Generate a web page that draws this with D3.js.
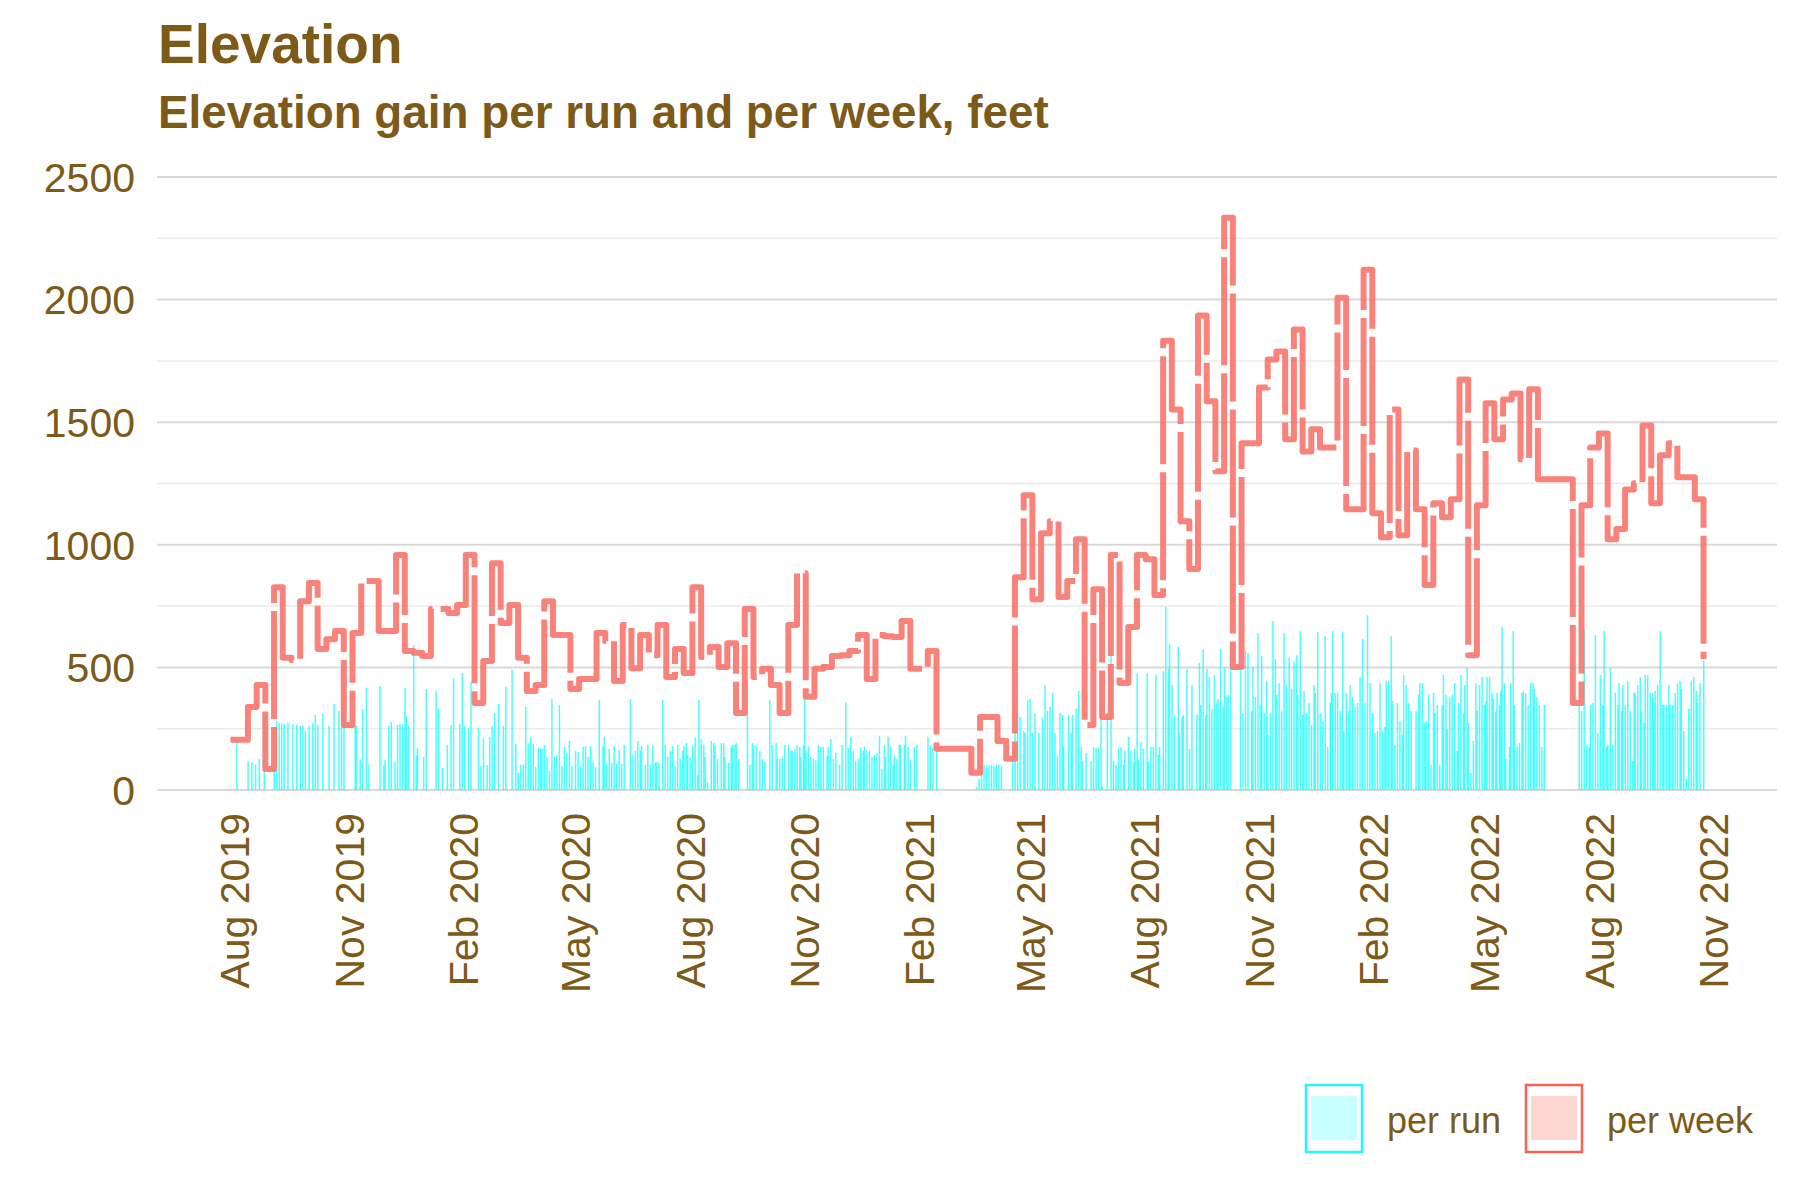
<!DOCTYPE html>
<html>
<head>
<meta charset="utf-8">
<script src="https://cdn.jsdelivr.net/npm/d3@7"></script>
<style>
	body { margin: 0; background: #fff; }
	svg { display: block; font-family: "Liberation Sans", Arial, Helvetica, sans-serif; }
</style>
</head>
<body>
<div id="chart"></div>
<script>
// weekly totals, one per week starting Monday 2019-07-29 (null = no runs that week)
var weekStart = "2019-07-29";
var weekGain = [
	205, null, 339, 428, 86, 827, 539, 530, 770, 844,
	575, 615, 648, 265, 640, 852, null, 648, 648, 958,
	567, 560, 546, 738, null, 722, 754, 958, 355, 526,
	925, 681, 754, 539, 404, 428, 770, 632, 632, 412,
	453, 453, 640, 607, 445, 673, 497, 632, 550, 673,
	461, 575, 477, 827, 542, 583, 502, 599, 314, 738,
	461, 494, 428, 314, 673, 884, 380, 494, 502, 546,
	550, 567, 632, 453, 632, 627, 624, 689, 494, 494,
	567, 168, null, null, null, 70, 298, 298, 200, 127,
	868, 1202, 778, 1047, 1096, 787, 852, 1023, 265, 819,
	298, 958, 436, 665, 958, 941, 795, 1832, 1552, 1096,
	901, 1935, 1585, 1300, 2334, 502, 1414, 1414, 1642, 1756,
	1788, 1430, 1878, 1381, 1471, 1397, 1397, 2008, 1145, 1145,
	2122, 1129, 1031, 1552, 1039, 1385, 1145, 836, 1169, 1112,
	1186, 1674, 550, 1161, 1577, 1430, 1593, 1617, 1349, 1634,
	1267, null, null, null, 355, 1161, 1397, 1454, 1023, 1064,
	1226, 1251, 1487, 1169, 1365, 1414, 1275, 1275, 1186, 534
];

// single runs: [days after 2019-08-01, elevation gain in feet]
var runOrigin = "2019-08-01";
var runs = [
	[2,205],[11,119],[14,114],[17,103],[20,127],[24,301],[32,91],[34,282],[36,274],[38,270],
	[40,268],[43,274],[47,269],[50,266],[53,261],[55,262],[57,241],[60,262],[63,274],[65,306],
	[67,266],[71,314],[76,262],[80,352],[84,322],[86,257],[88,330],[97,262],[98,262],[101,122],
	[103,330],[106,417],[108,102],[117,425],[120,102],[121,122],[124,262],[126,277],[129,114],[131,265],
	[133,269],[135,270],[137,417],[138,303],[140,262],[144,591],[146,140],[147,171],[152,135],[154,412],
	[162,404],[164,332],[167,91],[171,184],[174,265],[176,456],[181,269],[183,477],[185,261],[188,252],
	[190,440],[196,252],[198,99],[200,210],[203,102],[205,217],[207,262],[209,314],[212,352],[216,262],
	[218,420],[223,490],
	[226,187],[228,70],[230,103],[232,103],[234,339],[236,187],[238,217],[240,189],[242,94],[244,171],
	[246,171],[247,168],[249,184],[251,135],[253,78],[255,371],[257,135],[259,143],[261,347],[263,98],
	[265,176],[267,151],[269,200],[271,98],[274,160],[276,155],[278,98],[280,176],[282,179],[284,135],
	[286,179],[288,114],[290,94],[293,368],[296,176],[297,217],[299,107],[301,168],[303,111],[305,179],
	[307,107],[309,164],[311,107],[313,184],[318,371],[320,143],[322,160],[324,200],[326,160],[327,179],
	[330,103],[332,184],[334,103],[336,184],[338,111],[339,114],[341,111],[344,368],[346,184],[348,135],
	[350,160],[352,179],[354,98],[356,184],[358,127],[360,160],[361,179],[363,192],[364,143],[366,135],
	[368,179],[370,212],[372,62],[373,366],[375,208],[377,184],[378,135],[380,33],[383,200],[385,192],
	[386,184],[388,127],[391,192],[393,192],[394,135],[397,111],[399,176],[400,184],[402,184],[403,192],
	[405,127],[412,445],[414,103],[416,192],[417,184],[419,179],[422,160],[424,127],[426,114],[430,368],
	[432,184],[435,192],[436,127],[438,127],[440,135],[442,184],[445,184],[447,160],[448,160],[450,168],
	[452,184],[454,176],[455,135],[457,184],[458,371],[459,160],[461,179],[463,135],[465,127],
	[467,122],[469,184],[471,176],[473,176],[476,138],[477,176],[479,208],[481,127],[483,151],[486,103],
	[488,184],[491,358],[493,171],[495,217],[497,160],[499,119],[501,127],[503,171],[505,160],[506,176],
	[508,160],[510,160],[512,135],[514,143],[516,151],[518,220],[520,86],[522,184],[523,135],[525,217],
	[527,176],[529,103],[530,143],[532,127],[534,184],[535,184],[538,184],[539,220],[541,176],[543,122],
	[546,176],[548,184],[557,217],[559,184],[561,171],[564,160],[596,13],[598,46],[600,94],[602,103],
	[604,98],[606,98],[608,103],[610,98],[612,103],[614,103],[616,98],[625,127],[627,249],[629,314],
	[631,298],[634,241],[635,233],[637,366],[639,371],[641,233],[643,314],[646,233],[649,295],[651,428],
	[653,322],[655,339],[657,396],[659,233],[661,138],[663,314],[665,306],[666,176],[670,306],[672,233],
	[673,306],[676,331],[678,404],[680,176],[681,119],[684,151],[688,119],[690,176],[692,171],[694,171],
	[696,311],[697,13],[701,314],[704,559],[706,119],
	[708,103],[710,171],[712,176],[714,103],[715,160],[718,217],[720,160],[722,114],[723,168],[725,474],
	[726,122],[728,195],[730,168],[733,477],[734,114],[736,176],[738,176],[740,469],[742,143],[743,176],
	[746,485],[748,746],[750,493],[751,594],[753,428],[755,306],[758,583],[759,233],[761,298],[762,306],
	[765,493],[767,168],[769,428],[773,306],[775,518],[776,347],[778,575],[780,306],[781,493],[783,461],
	[785,331],[787,469],[789,355],[790,371],[792,575],[794,339],[795,502],[797,379],[798,388],[800,583],
	[808,493],[810,314],[812,567],[814,559],[817,322],[818,502],[820,379],[822,640],[824,347],[825,546],
	[827,314],[829,445],[830,225],[832,314],[834,689],[836,534],[837,388],[839,436],[841,322],[843,640],
	[845,428],[847,539],[849,412],[851,523],[853,550],[854,388],[856,648],[858,306],[859,404],[861,314],
	[863,355],[865,265],[867,428],[868,396],[870,645],[872,314],[874,282],[876,627],[878,176],[880,355],
	[881,396],[882,648],[884,396],[886,399],[888,322],[890,645],[891,241],[893,396],[895,322],[896,428],
	[898,379],[900,339],[902,355],[904,461],[906,616],[908,355],[910,713],[912,436],[914,314],[916,233],
	[918,241],[920,436],[922,241],[924,257],[925,445],[927,445],[929,627],[930,363],[932,184],[934,355],
	[936,282],[938,225],[939,469],[941,428],[943,355],[945,322],
	[949,322],[951,388],[952,436],[954,436],[956,274],[957,282],[959,388],[961,103],[963,396],[964,314],
	[966,347],[968,103],[970,347],[971,469],[973,388],[974,249],[976,379],[978,388],[980,436],[982,160],
	[983,355],[985,469],[987,314],[988,428],[990,497],[991,274],[993,70],[995,200],[997,436],[998,322],
	[1000,428],[1002,461],[1004,347],[1005,363],[1006,461],[1008,461],[1010,396],[1011,371],[1013,322],[1014,396],
	[1016,347],[1017,404],[1018,664],[1020,436],[1021,127],[1024,176],[1025,436],[1027,648],[1028,347],[1030,176],
	[1032,192],[1034,396],[1035,404],[1037,396],[1039,347],[1041,436],[1043,436],[1044,412],[1046,379],[1048,347],
	[1050,176],[1052,347],[1080,347],[1082,322],[1084,656],[1086,184],[1088,176],[1089,347],[1091,355],[1093,632],
	[1095,233],[1097,469],[1099,347],[1100,648],[1102,176],[1103,184],[1105,497],[1107,184],[1109,396],[1111,347],
	[1112,436],[1114,322],[1115,428],[1117,347],[1119,445],[1121,322],[1123,119],[1124,396],[1125,396],[1127,428],
	[1129,461],[1130,322],[1132,274],[1133,469],[1135,469],[1137,396],[1139,396],[1140,355],[1141,404],[1143,428],
	[1145,648],[1147,347],[1148,347],[1150,347],[1152,428],[1153,347],[1155,347],[1157,396],[1159,436],[1161,445],
	[1162,412],[1164,241],[1166,46],[1168,331],[1170,445],[1172,461],[1174,404],[1175,355],[1177,436],[1180,526]
];

var yTicks = [0, 500, 1000, 1500, 2000, 2500];
var yMinor = [250, 750, 1250, 1750, 2250];
var legendLabels = ["per run", "per week"];
var titleText = "Elevation";
var subtitleText = "Elevation gain per run and per week, feet";

var width = 1800,
	height = 1200,
	textColor = "#7d5a17";

var parseDate = d3.timeParse("%Y-%m-%d");
var origin = parseDate(runOrigin);
var week0 = parseDate(weekStart);

var svg = d3.select("#chart")
	.append("svg")
	.attr("width", width)
	.attr("height", height);

var x = d3.scaleTime()
	.domain([d3.timeDay.offset(origin, -62), d3.timeDay.offset(origin, 1239)])
	.range([157, 1777]);

var y = d3.scaleLinear()
	.domain([0, 2500])
	.range([790, 177]);

/* ------- GRID -------*/
svg.append("g").selectAll("line")
	.data(yMinor)
	.enter()
	.append("line")
	.attr("x1", x.range()[0])
	.attr("x2", x.range()[1])
	.attr("y1", function (d) { return y(d); })
	.attr("y2", function (d) { return y(d); })
	.attr("stroke", "#ebebeb")
	.attr("stroke-width", 1.5);

svg.append("g").selectAll("line")
	.data(yTicks)
	.enter()
	.append("line")
	.attr("x1", x.range()[0])
	.attr("x2", x.range()[1])
	.attr("y1", function (d) { return y(d); })
	.attr("y2", function (d) { return y(d); })
	.attr("stroke", "#d9d9d9")
	.attr("stroke-width", 2);

/* ------- AXIS LABELS -------*/
svg.append("g").selectAll("text")
	.data(yTicks)
	.enter()
	.append("text")
	.attr("x", 135)
	.attr("y", function (d) { return y(d); })
	.attr("dy", "0.36em")
	.attr("text-anchor", "end")
	.attr("font-size", 41)
	.attr("fill", textColor)
	.text(function (d) { return d; });

var xTicks = d3.timeMonth.range(origin, new Date(2022, 11, 1), 3);
var fmt = d3.timeFormat("%b %Y");

svg.append("g").selectAll("text")
	.data(xTicks)
	.enter()
	.append("text")
	.attr("transform", function (d) { return "translate(" + x(d) + ",813) rotate(-90)"; })
	.attr("dy", "0.36em")
	.attr("text-anchor", "end")
	.attr("font-size", 41)
	.attr("fill", textColor)
	.text(function (d) { return fmt(d); });

/* ------- PER RUN BARS -------*/
var barW = x(d3.timeDay.offset(origin, 1)) - x(origin);

svg.append("g").selectAll("rect")
	.data(runs)
	.enter()
	.append("rect")
	.attr("x", function (d) { return x(d3.timeDay.offset(origin, d[0])) - barW * 0.45; })
	.attr("width", barW * 0.9 + 0.4)
	.attr("y", function (d) { return y(d[1]); })
	.attr("height", function (d) { return y(0) - y(d[1]); })
	.attr("fill", "#00ffff")
	.attr("fill-opacity", 0.7);

/* ------- PER WEEK STEP LINE -------*/
var weekPoints = weekGain.map(function (v, i) {
	return { date: d3.timeDay.offset(week0, 7 * i), value: v };
}).filter(function (d) { return d.value !== null; });

var step = d3.line()
	.curve(d3.curveStepAfter)
	.x(function (d) { return x(d.date); })
	.y(function (d) { return y(d.value); });

svg.append("path")
	.datum(weekPoints)
	.attr("d", step)
	.attr("fill", "none")
	.attr("stroke", "#f8766d")
	.attr("stroke-opacity", 0.9)
	.attr("stroke-width", 6)
	.attr("stroke-linejoin", "round")
	.attr("stroke-dasharray", "108,8");

/* ------- TITLES -------*/
svg.append("text")
	.attr("x", 158)
	.attr("y", 63)
	.attr("font-size", 55)
	.attr("font-weight", "bold")
	.attr("fill", textColor)
	.text(titleText);

svg.append("text")
	.attr("x", 158)
	.attr("y", 128)
	.attr("font-size", 45.8)
	.attr("font-weight", "bold")
	.attr("fill", textColor)
	.text(subtitleText);

/* ------- LEGEND -------*/
var legendItems = [
	{ label: legendLabels[0], x: 1306, stroke: "#22f6f6", fill: "#c8ffff" },
	{ label: legendLabels[1], x: 1526, stroke: "#f8604f", fill: "#fdd6d2" }
];

var legend = svg.append("g").selectAll("g")
	.data(legendItems)
	.enter()
	.append("g");

legend.append("rect")
	.attr("x", function (d) { return d.x + 5; })
	.attr("y", 1096)
	.attr("width", 46)
	.attr("height", 44)
	.attr("fill", function (d) { return d.fill; });

legend.append("rect")
	.attr("x", function (d) { return d.x; })
	.attr("y", 1085)
	.attr("width", 56)
	.attr("height", 67)
	.attr("fill", "none")
	.attr("stroke", function (d) { return d.stroke; })
	.attr("stroke-width", 2.5);

legend.append("text")
	.attr("x", function (d) { return d.x + 81; })
	.attr("y", 1133)
	.attr("font-size", 36)
	.attr("fill", textColor)
	.text(function (d) { return d.label; });
</script>
</body>
</html>
